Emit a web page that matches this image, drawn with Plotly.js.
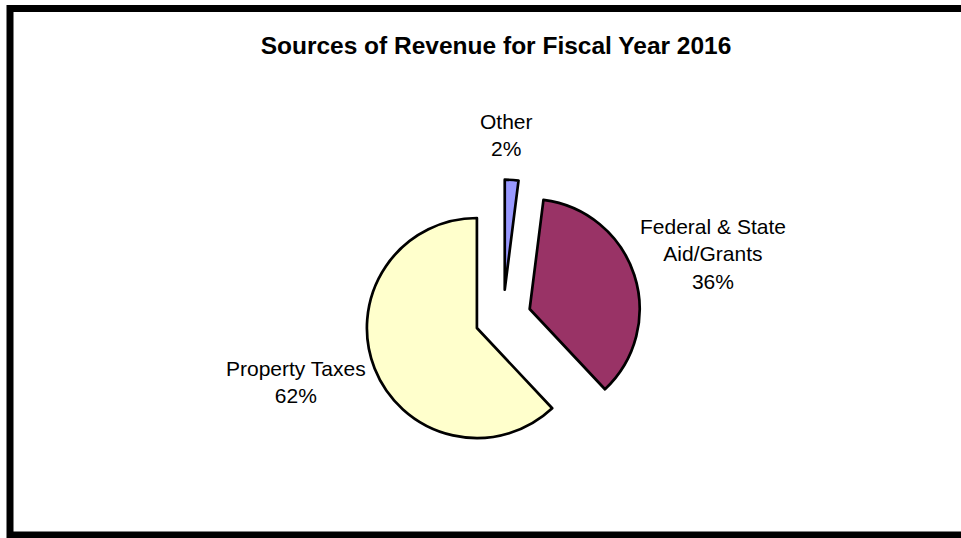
<!DOCTYPE html>
<html>
<head>
<meta charset="utf-8">
<script src="https://cdn.plot.ly/plotly-3.0.1.min.js"></script>
<style>html,body{margin:0;padding:0;background:#fff;}#chart{width:961px;height:538px;}</style>
</head>
<body>
<div id="chart"></div>
<script>
// Data
const categories = ["Other", "Federal & State Aid/Grants", "Property Taxes"];
const displayLabels = ["Other", "Federal & State<br>Aid/Grants", "Property Taxes"];
const values = [2, 36, 62];
const colors = ["#9999FF", "#993366", "#FFFFCC"];
const titleText = "Sources of Revenue for Fiscal Year 2016";

// Label placement (pixels in page)
const labelPos = [[506, 135], [713, 254], [296, 382]];

const W = 961, H = 538;
const total = values.reduce((a, b) => a + b, 0);

const trace = {
  type: "pie",
  labels: categories,
  values: values,
  sort: false,
  direction: "clockwise",
  rotation: 0,
  pull: values.map(() => 0.255),
  textinfo: "none",
  hoverinfo: "label+percent",
  marker: { colors: colors, line: { color: "#000000", width: 2.7 } },
  domain: { x: [0.3234, 0.7234], y: [0.1529, 0.6661] },
  showlegend: false
};

const annotations = categories.map((c, i) => ({
  text: displayLabels[i] + "<br>" + Math.round(values[i] / total * 100) + "%",
  xref: "paper", yref: "paper",
  x: labelPos[i][0] / W, y: 1 - labelPos[i][1] / H,
  xanchor: "center", yanchor: "middle",
  showarrow: false, align: "center",
  font: { family: "Liberation Sans, Arial, sans-serif", size: 21, color: "#000000" }
}));

const layout = {
  width: W, height: H,
  margin: { l: 0, r: 0, t: 0, b: 0 },
  paper_bgcolor: "#ffffff",
  title: {
    text: "<b>" + titleText + "</b>",
    x: 496 / W, xanchor: "center",
    y: 1 - 45 / H, yanchor: "middle", yref: "container",
    font: { family: "Liberation Sans, Arial, sans-serif", size: 24.5, color: "#000000" }
  },
  annotations: annotations,
  shapes: [{
    type: "rect", xref: "paper", yref: "paper",
    x0: 10 / W, x1: 1.02, y0: 1 - 535 / H, y1: 1 - 8.5 / H,
    line: { color: "#000000", width: 7 }, fillcolor: "rgba(0,0,0,0)"
  }]
};

Plotly.newPlot("chart", [trace], layout, { displayModeBar: false, staticPlot: true });
</script>
</body>
</html>
